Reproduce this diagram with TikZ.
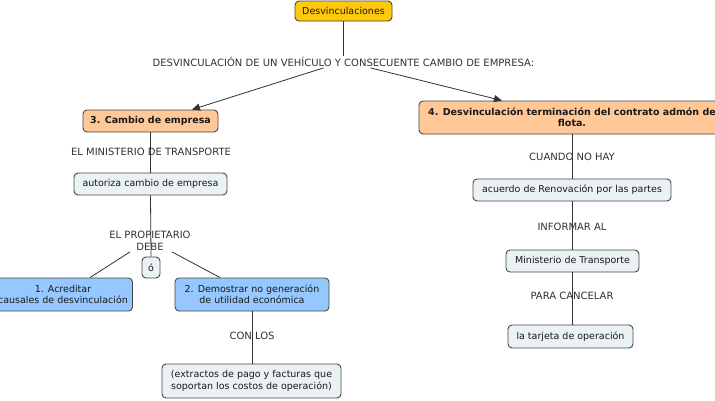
\documentclass[tikz,border=0pt]{standalone}
\usepackage{fontspec}
\setmainfont{DejaVu Sans}
\usetikzlibrary{arrows.meta}
\definecolor{gold}{RGB}{255,200,10}
\definecolor{peach}{RGB}{255,200,150}
\definecolor{skyb}{RGB}{150,200,255}
\definecolor{pale}{RGB}{235,242,245}
\definecolor{bord}{RGB}{70,70,70}
\definecolor{linec}{RGB}{50,50,50}
\definecolor{txt}{RGB}{25,25,25}
\begin{document}
\begin{tikzpicture}[x=1pt,y=-1pt,
  font=\fontsize{9.5}{11.5}\selectfont,
  box/.style={draw=bord,line width=0.9pt,rounded corners=4pt,text=txt,inner sep=0pt,align=center},
  gold box/.style={box,fill=gold},
  peach box/.style={box,fill=peach,font=\fontsize{9.5}{11.5}\selectfont\bfseries},
  blue box/.style={box,fill=skyb},
  pale box/.style={box,fill=pale},
  lab/.style={text=linec,inner sep=1pt,align=center,font=\fontsize{10}{12}\selectfont},
  conn/.style={draw=linec,line width=0.8pt},
  arr/.style={conn,-{Triangle[length=8pt,width=7pt]}}]
\clip (0,0) rectangle (715,400);
\fill[white] (0,0) rectangle (715,400);
% concepts
\node[gold box,minimum width=97pt,minimum height=20pt] (D) at (343.5,11) {Desvinculaciones};
\node[peach box,minimum width=135pt,minimum height=22pt] (B3) at (150.5,121) {3. Cambio de empresa};
\node[pale box,minimum width=153pt,minimum height=22pt] (AU) at (150.5,184) {autoriza cambio de empresa};
\node[pale box,minimum width=18pt,minimum height=21pt] (O) at (151,267.5) {ó};
\node[blue box,minimum width=139pt,minimum height=33pt] (B1) at (63,294.5) {1. Acreditar\\causales de desvinculación};
\node[blue box,minimum width=154pt,minimum height=33pt] (B2) at (252,294.5) {2. Demostrar no generación\\de utilidad económica};
\node[pale box,minimum width=179pt,minimum height=34pt] (EX) at (251.5,381) {(extractos de pago y facturas que\\soportan los costos de operación)};
\node[peach box,minimum width=306pt,minimum height=33pt] (B4) at (572,117.5) {4. Desvinculación terminación del contrato admón de\\flota.};
\node[pale box,minimum width=198pt,minimum height=22pt] (AC) at (572,190) {acuerdo de Renovación por las partes};
\node[pale box,minimum width=133pt,minimum height=22pt] (MT) at (572.5,261) {Ministerio de Transporte};
\node[pale box,minimum width=125pt,minimum height=23pt] (TO) at (570.5,336.5) {la tarjeta de operación};
% linking phrases
\node[lab] (L1) at (343.5,62) {DESVINCULACIÓN DE UN VEHÍCULO Y CONSECUENTE CAMBIO DE EMPRESA:};
\node[lab] (L2) at (151,152) {EL MINISTERIO DE TRANSPORTE};
\node[lab] (L3) at (150,241) {EL PROPIETARIO\\DEBE};
\node[lab] (L4) at (252,336) {CON LOS};
\node[lab] (L5) at (572,157) {CUANDO NO HAY};
\node[lab] (L6) at (572,227) {INFORMAR AL};
\node[lab] (L7) at (572,296) {PARA CANCELAR};
% connectors
\draw[conn] (D.south) -- (L1.north);
\draw[arr] ([xshift=-20pt]L1.south) -- ([xshift=41.5pt]B3.north);
\draw[arr] ([xshift=27pt]L1.south) -- ([xshift=-70pt]B4.north);
\draw[conn] (B3.south) -- (AU.north);
\draw[conn] (AU.south) -- (O.north);
\draw[conn] ([xshift=-20pt]L3.south) -- ([xshift=27pt]B1.north);
\draw[conn] ([xshift=22pt]L3.south) -- ([xshift=-32pt]B2.north);
\draw[conn] (B2.south) -- (B2.south |- EX.north);
\draw[conn] (B4.south) -- (AC.north);
\draw[conn] (AC.south) -- (AC.south |- MT.north);
\draw[conn] (MT.south) -- (MT.south |- TO.north);
\end{tikzpicture}
\end{document}
